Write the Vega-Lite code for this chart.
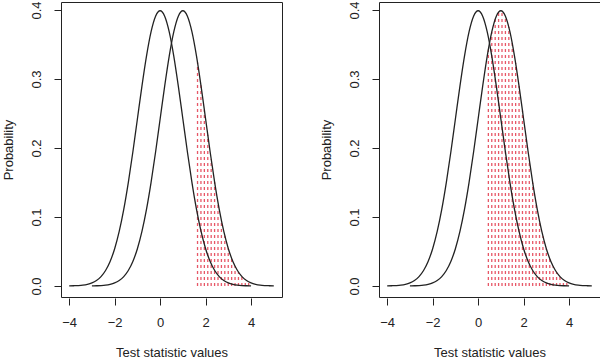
{
  "$schema": "https://vega.github.io/schema/vega-lite/v6.json",
  "padding": {"left": 2, "top": 0, "right": 0, "bottom": 0},
  "background": "white",
  "bounds": "flush",
  "spacing": 97,
  "config": {
    "font": "Liberation Sans",
    "view": {"stroke": "#222", "strokeWidth": 1},
    "axis": {"grid": false, "domain": false, "tickColor": "#222", "tickSize": 7, "labelColor": "#222", "titleColor": "#222", "labelFontSize": 13, "titleFontSize": 13, "titleFontWeight": "normal", "labelFlush": false, "labelOverlap": false}
  },
  "datasets": {
    "curves": [
      {"x": -4.0, "y": 0.0001, "s": "H0"}, {"x": -3.8, "y": 0.0003, "s": "H0"}, {"x": -3.6, "y": 0.0006, "s": "H0"}, {"x": -3.4, "y": 0.0012, "s": "H0"}, {"x": -3.2, "y": 0.0024, "s": "H0"}, {"x": -3.0, "y": 0.0044, "s": "H0"}, {"x": -2.8, "y": 0.0079, "s": "H0"}, {"x": -2.6, "y": 0.0136, "s": "H0"}, {"x": -2.4, "y": 0.0224, "s": "H0"}, {"x": -2.2, "y": 0.0355, "s": "H0"}, {"x": -2.0, "y": 0.054, "s": "H0"}, {"x": -1.8, "y": 0.079, "s": "H0"}, {"x": -1.6, "y": 0.1109, "s": "H0"}, {"x": -1.4, "y": 0.1497, "s": "H0"}, {"x": -1.2, "y": 0.1942, "s": "H0"}, {"x": -1.0, "y": 0.242, "s": "H0"}, {"x": -0.8, "y": 0.2897, "s": "H0"}, {"x": -0.6, "y": 0.3332, "s": "H0"}, {"x": -0.4, "y": 0.3683, "s": "H0"}, {"x": -0.2, "y": 0.391, "s": "H0"}, {"x": 0.0, "y": 0.3989, "s": "H0"}, {"x": 0.2, "y": 0.391, "s": "H0"}, {"x": 0.4, "y": 0.3683, "s": "H0"}, {"x": 0.6, "y": 0.3332, "s": "H0"}, {"x": 0.8, "y": 0.2897, "s": "H0"}, {"x": 1.0, "y": 0.242, "s": "H0"}, {"x": 1.2, "y": 0.1942, "s": "H0"}, {"x": 1.4, "y": 0.1497, "s": "H0"}, {"x": 1.6, "y": 0.1109, "s": "H0"}, {"x": 1.8, "y": 0.079, "s": "H0"}, {"x": 2.0, "y": 0.054, "s": "H0"}, {"x": 2.2, "y": 0.0355, "s": "H0"}, {"x": 2.4, "y": 0.0224, "s": "H0"}, {"x": 2.6, "y": 0.0136, "s": "H0"}, {"x": 2.8, "y": 0.0079, "s": "H0"}, {"x": 3.0, "y": 0.0044, "s": "H0"}, {"x": 3.2, "y": 0.0024, "s": "H0"}, {"x": 3.4, "y": 0.0012, "s": "H0"}, {"x": 3.6, "y": 0.0006, "s": "H0"}, {"x": 3.8, "y": 0.0003, "s": "H0"}, {"x": 4.0, "y": 0.0001, "s": "H0"},
      {"x": -3.0, "y": 0.0001, "s": "H1"}, {"x": -2.8, "y": 0.0003, "s": "H1"}, {"x": -2.6, "y": 0.0006, "s": "H1"}, {"x": -2.4, "y": 0.0012, "s": "H1"}, {"x": -2.2, "y": 0.0024, "s": "H1"}, {"x": -2.0, "y": 0.0044, "s": "H1"}, {"x": -1.8, "y": 0.0079, "s": "H1"}, {"x": -1.6, "y": 0.0136, "s": "H1"}, {"x": -1.4, "y": 0.0224, "s": "H1"}, {"x": -1.2, "y": 0.0355, "s": "H1"}, {"x": -1.0, "y": 0.054, "s": "H1"}, {"x": -0.8, "y": 0.079, "s": "H1"}, {"x": -0.6, "y": 0.1109, "s": "H1"}, {"x": -0.4, "y": 0.1497, "s": "H1"}, {"x": -0.2, "y": 0.1942, "s": "H1"}, {"x": 0.0, "y": 0.242, "s": "H1"}, {"x": 0.2, "y": 0.2897, "s": "H1"}, {"x": 0.4, "y": 0.3332, "s": "H1"}, {"x": 0.6, "y": 0.3683, "s": "H1"}, {"x": 0.8, "y": 0.391, "s": "H1"}, {"x": 1.0, "y": 0.3989, "s": "H1"}, {"x": 1.2, "y": 0.391, "s": "H1"}, {"x": 1.4, "y": 0.3683, "s": "H1"}, {"x": 1.6, "y": 0.3332, "s": "H1"}, {"x": 1.8, "y": 0.2897, "s": "H1"}, {"x": 2.0, "y": 0.242, "s": "H1"}, {"x": 2.2, "y": 0.1942, "s": "H1"}, {"x": 2.4, "y": 0.1497, "s": "H1"}, {"x": 2.6, "y": 0.1109, "s": "H1"}, {"x": 2.8, "y": 0.079, "s": "H1"}, {"x": 3.0, "y": 0.054, "s": "H1"}, {"x": 3.2, "y": 0.0355, "s": "H1"}, {"x": 3.4, "y": 0.0224, "s": "H1"}, {"x": 3.6, "y": 0.0136, "s": "H1"}, {"x": 3.8, "y": 0.0079, "s": "H1"}, {"x": 4.0, "y": 0.0044, "s": "H1"}, {"x": 4.2, "y": 0.0024, "s": "H1"}, {"x": 4.4, "y": 0.0012, "s": "H1"}, {"x": 4.6, "y": 0.0006, "s": "H1"}, {"x": 4.8, "y": 0.0003, "s": "H1"}, {"x": 5.0, "y": 0.0001, "s": "H1"}
    ],
    "hatchA": [
      {"x": 1.645, "low": 0, "top": 0.324}, {"x": 1.795, "low": 0, "top": 0.2908}, {"x": 1.945, "low": 0, "top": 0.2553}, {"x": 2.095, "low": 0, "top": 0.219}, {"x": 2.245, "low": 0, "top": 0.1838}, {"x": 2.395, "low": 0, "top": 0.1508}, {"x": 2.545, "low": 0, "top": 0.1209}, {"x": 2.695, "low": 0, "top": 0.0948}, {"x": 2.845, "low": 0, "top": 0.0727}, {"x": 2.995, "low": 0, "top": 0.0545}, {"x": 3.145, "low": 0, "top": 0.04}, {"x": 3.295, "low": 0, "top": 0.0286}, {"x": 3.445, "low": 0, "top": 0.0201}, {"x": 3.595, "low": 0, "top": 0.0138}, {"x": 3.745, "low": 0, "top": 0.0092}, {"x": 3.895, "low": 0, "top": 0.006}
    ],
    "hatchB": [
      {"x": 0.45, "low": 0, "top": 0.3429}, {"x": 0.6, "low": 0, "top": 0.3683}, {"x": 0.75, "low": 0, "top": 0.3867}, {"x": 0.9, "low": 0, "top": 0.397}, {"x": 1.05, "low": 0, "top": 0.3984}, {"x": 1.2, "low": 0, "top": 0.391}, {"x": 1.35, "low": 0, "top": 0.3752}, {"x": 1.5, "low": 0, "top": 0.3521}, {"x": 1.65, "low": 0, "top": 0.323}, {"x": 1.8, "low": 0, "top": 0.2897}, {"x": 1.95, "low": 0, "top": 0.2541}, {"x": 2.1, "low": 0, "top": 0.2179}, {"x": 2.25, "low": 0, "top": 0.1826}, {"x": 2.4, "low": 0, "top": 0.1497}, {"x": 2.55, "low": 0, "top": 0.12}, {"x": 2.7, "low": 0, "top": 0.094}, {"x": 2.85, "low": 0, "top": 0.0721}, {"x": 3.0, "low": 0, "top": 0.054}, {"x": 3.15, "low": 0, "top": 0.0396}, {"x": 3.3, "low": 0, "top": 0.0283}, {"x": 3.45, "low": 0, "top": 0.0198}, {"x": 3.6, "low": 0, "top": 0.0136}, {"x": 3.75, "low": 0, "top": 0.0091}, {"x": 3.9, "low": 0, "top": 0.006}
    ]
  },
  "hconcat": [
    {
      "width": 221, "height": 295,
      "layer": [
        {
          "data": {"name": "hatchA"},
          "mark": {"type": "rule", "color": "#e44556", "opacity": 0.9, "strokeWidth": 1.3, "strokeDash": [3, 3]},
          "encoding": {
            "x": {"field": "x", "type": "quantitative", "scale": {"domain": [-4.36, 5.36], "nice": false, "zero": false}, "axis": {"values": [-4, -2, 0, 2, 4], "offset": 1, "labelPadding": 11, "title": "Test statistic values", "titlePadding": 17}},
            "y": {"field": "low", "type": "quantitative", "scale": {"domain": [-0.016, 0.4116], "nice": false, "zero": false}, "axis": {"values": [0, 0.1, 0.2, 0.3, 0.4], "format": ".1f", "labelAngle": 270, "labelAlign": "center", "labelBaseline": "bottom", "labelPadding": 10.5, "title": "Probability", "titlePadding": 15}},
            "y2": {"field": "top"}
          }
        },
        {
          "data": {"name": "curves"},
          "mark": {"type": "line", "color": "#222", "strokeWidth": 1.3, "interpolate": "monotone"},
          "encoding": {
            "x": {"field": "x", "type": "quantitative"},
            "y": {"field": "y", "type": "quantitative"},
            "detail": {"field": "s", "type": "nominal"}
          }
        }
      ]
    },
    {
      "width": 221, "height": 295,
      "layer": [
        {
          "data": {"name": "hatchB"},
          "mark": {"type": "rule", "color": "#e44556", "opacity": 0.9, "strokeWidth": 1.3, "strokeDash": [3, 3]},
          "encoding": {
            "x": {"field": "x", "type": "quantitative", "scale": {"domain": [-4.36, 5.36], "nice": false, "zero": false}, "axis": {"values": [-4, -2, 0, 2, 4], "offset": 1, "labelPadding": 11, "title": "Test statistic values", "titlePadding": 17}},
            "y": {"field": "low", "type": "quantitative", "scale": {"domain": [-0.016, 0.4116], "nice": false, "zero": false}, "axis": {"values": [0, 0.1, 0.2, 0.3, 0.4], "format": ".1f", "labelAngle": 270, "labelAlign": "center", "labelBaseline": "bottom", "labelPadding": 10.5, "title": "Probability", "titlePadding": 15}},
            "y2": {"field": "top"}
          }
        },
        {
          "data": {"name": "curves"},
          "mark": {"type": "line", "color": "#222", "strokeWidth": 1.3, "interpolate": "monotone"},
          "encoding": {
            "x": {"field": "x", "type": "quantitative"},
            "y": {"field": "y", "type": "quantitative"},
            "detail": {"field": "s", "type": "nominal"}
          }
        }
      ]
    }
  ]
}
